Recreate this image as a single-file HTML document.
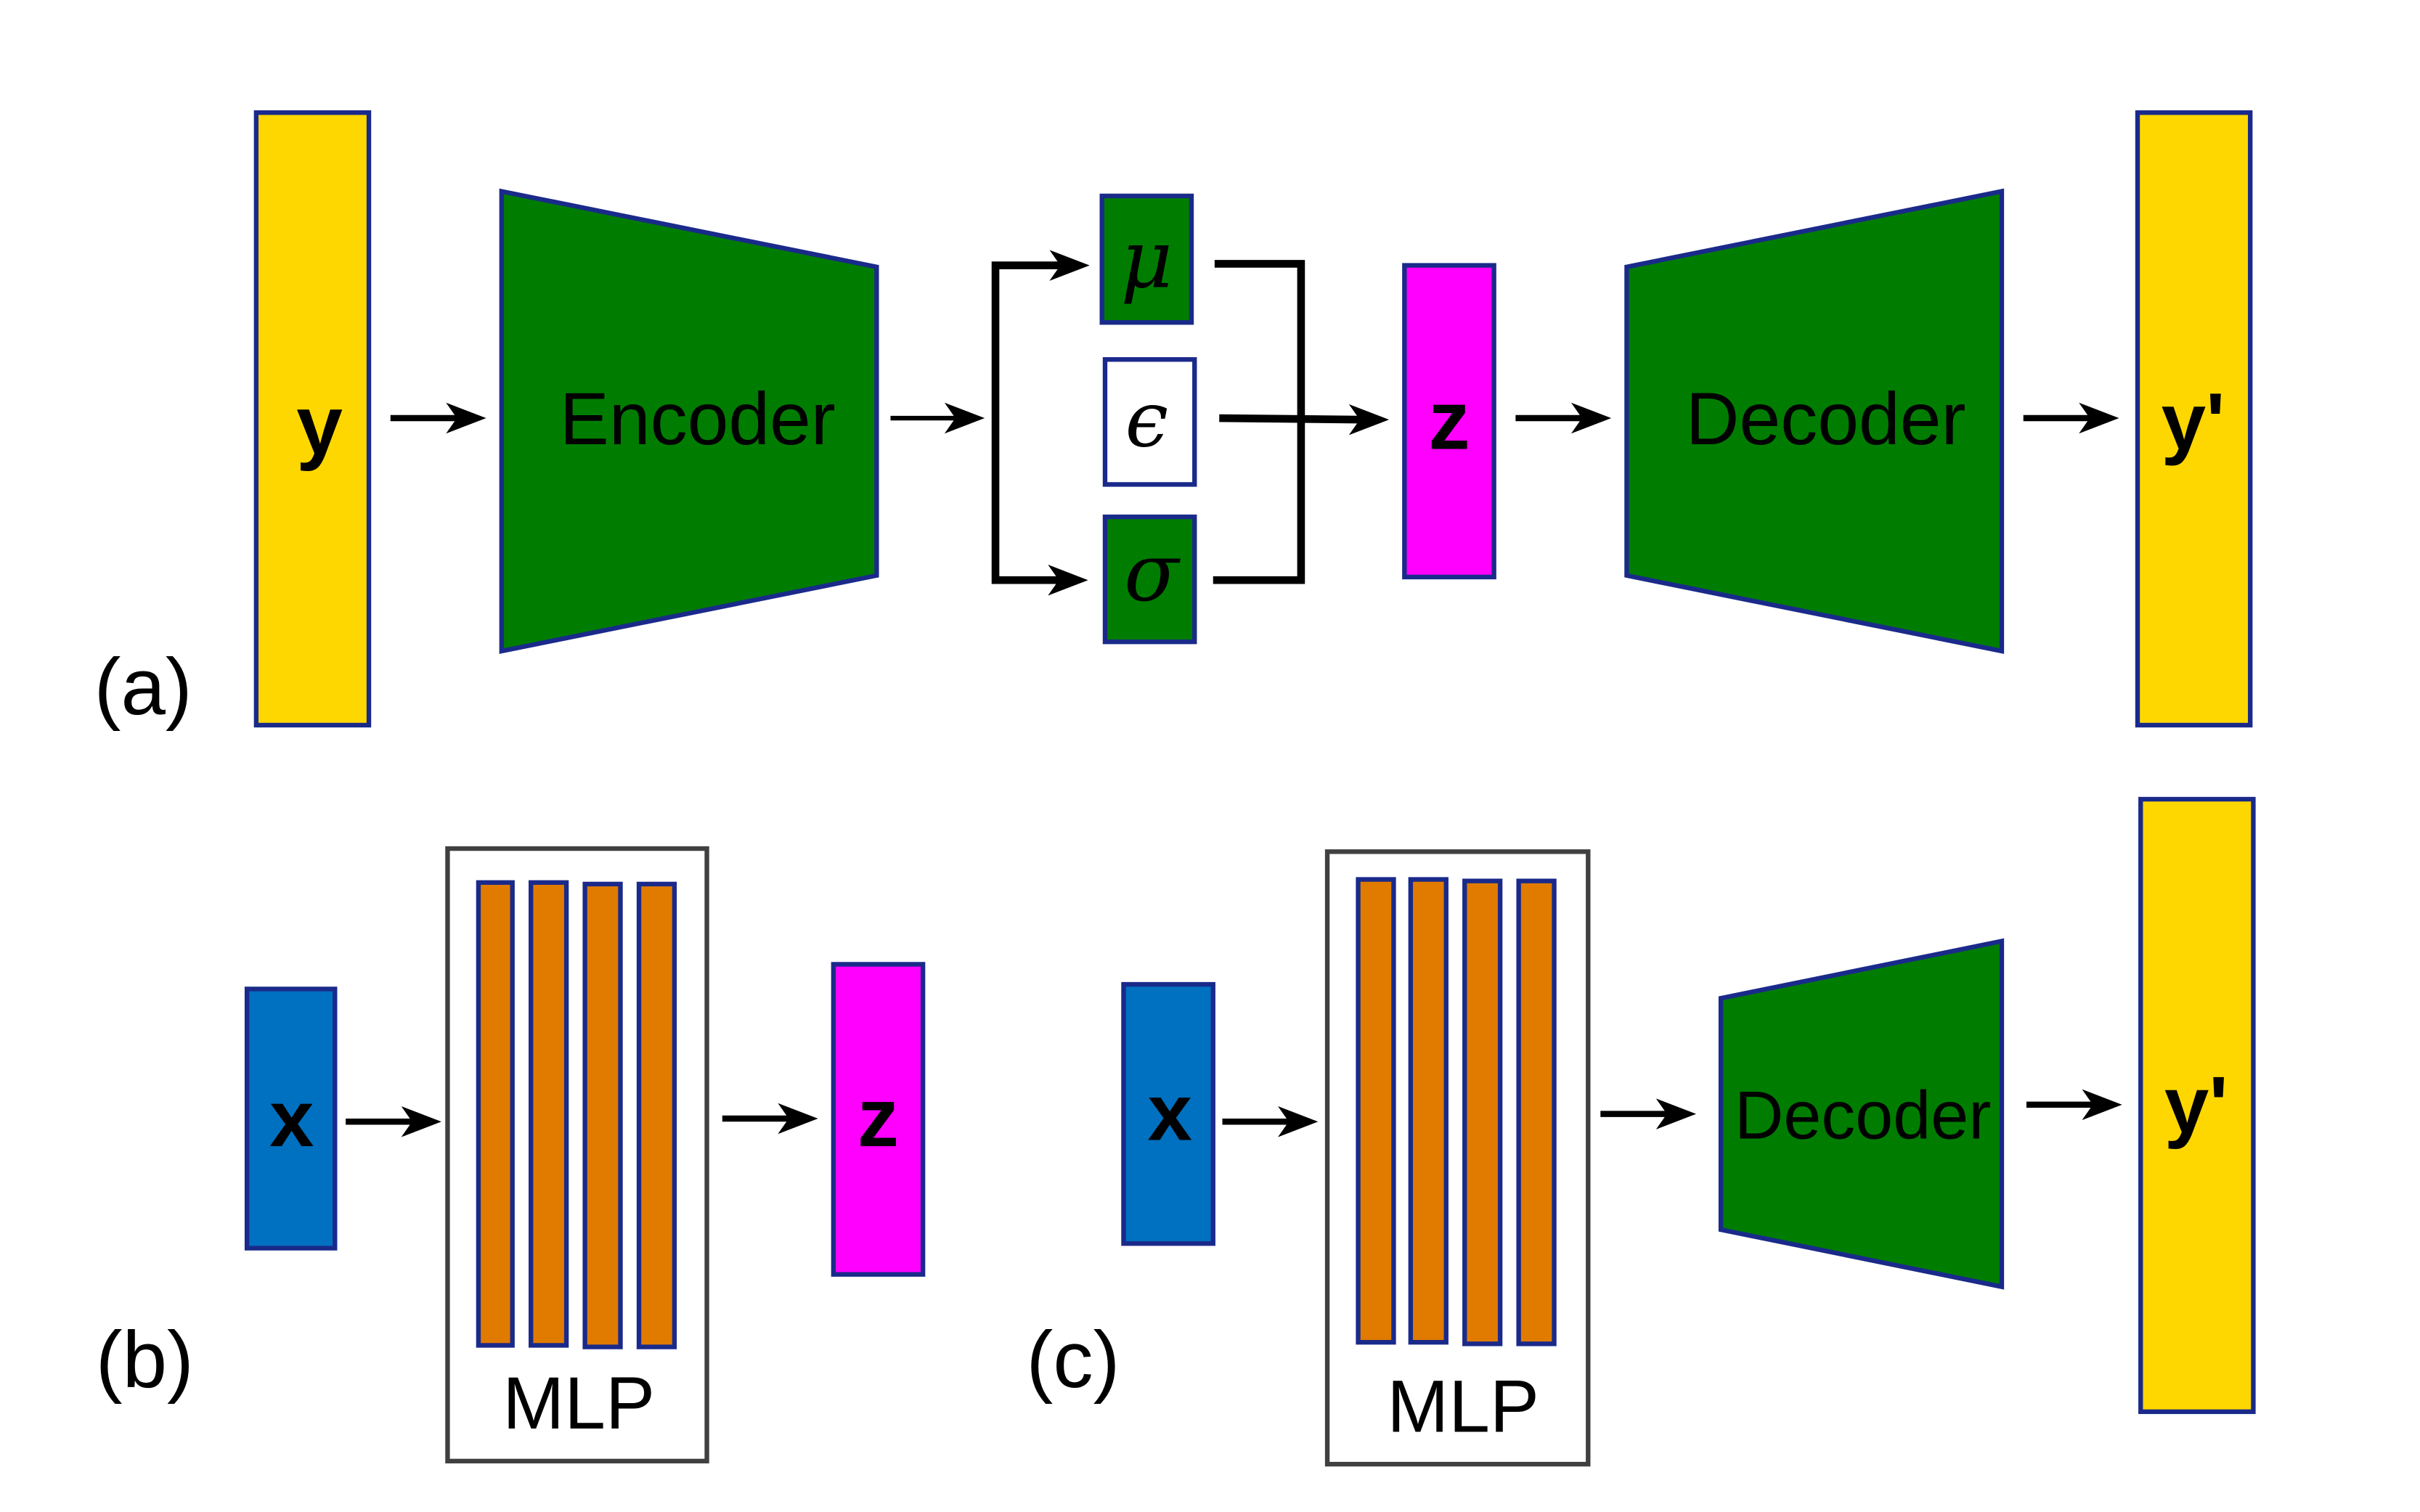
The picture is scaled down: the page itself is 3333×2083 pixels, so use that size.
<!DOCTYPE html>
<html><head><meta charset="utf-8"><style>
html,body{margin:0;padding:0;background:#fff;}
svg{display:block;}
</style></head><body>
<svg width="3333" height="2083" viewBox="0 0 1568 980" xmlns="http://www.w3.org/2000/svg" preserveAspectRatio="none">
<g font-family="Liberation Sans, sans-serif">
<!-- (a) -->
<rect x="166" y="73" width="73" height="397" fill="#FFD700" stroke="#1a2a8a" stroke-width="3"/>
<text x="207" y="294" font-size="54" font-weight="bold" text-anchor="middle">y</text>
<polygon points="325,124 568,173 568,373 325,422" fill="#007D00" stroke="#1a2a8a" stroke-width="3"/>
<text x="452" y="288" font-size="48" text-anchor="middle">Encoder</text>
<rect x="714" y="127" width="58" height="82" fill="#007D00" stroke="#1a2a8a" stroke-width="3"/>
<text x="743" y="186" font-size="52" font-style="italic" font-family="DejaVu Serif, serif" text-anchor="middle">μ</text>
<rect x="716" y="233" width="58" height="81" fill="#fff" stroke="#1a2a8a" stroke-width="3"/>
<text x="743" y="289" font-size="50" font-style="italic" font-family="DejaVu Serif, serif" text-anchor="middle">ϵ</text>
<rect x="716" y="335" width="58" height="81" fill="#007D00" stroke="#1a2a8a" stroke-width="3"/>
<text x="746" y="389" font-size="52" font-style="italic" font-family="DejaVu Serif, serif" text-anchor="middle">σ</text>
<rect x="910" y="172" width="58" height="202" fill="#FF00FF" stroke="#1a2a8a" stroke-width="3"/>
<text x="939" y="291" font-size="54" font-weight="bold" text-anchor="middle">z</text>
<polygon points="1054,173 1297,124 1297,422 1054,373" fill="#007D00" stroke="#1a2a8a" stroke-width="3"/>
<text x="1183" y="288" font-size="48" text-anchor="middle">Decoder</text>
<rect x="1385" y="73" width="73" height="397" fill="#FFD700" stroke="#1a2a8a" stroke-width="3"/>
<text x="1421" y="291" font-size="52" font-weight="bold" text-anchor="middle">y'</text>
<text x="61" y="463" font-size="52">(a)</text>
<g stroke="#000" stroke-width="5" fill="none">
<polyline points="690,172 645,172 645,376 688,376"/>
<polyline points="787,171 843,171 843,376 786,376"/>
<line x1="790" y1="271" x2="885" y2="272"/>
<line x1="253" y1="271" x2="300" y2="271" stroke-width="4"/>
<line x1="577" y1="271" x2="624" y2="271" stroke-width="3"/>
<line x1="982" y1="271" x2="1030" y2="271" stroke-width="4"/>
<line x1="1311" y1="271" x2="1359" y2="271" stroke-width="4"/>
</g>
<g fill="#000">
<polygon points="706,172 680,162 687,172 680,182"/>
<polygon points="705,376 679,366 686,376 679,386"/>
<polygon points="900,272 874,262 881,272 874,282"/>
<polygon points="315,271 289,261 296,271 289,281"/>
<polygon points="638,271 612,261 619,271 612,281"/>
<polygon points="1044,271 1018,261 1025,271 1018,281"/>
<polygon points="1373,271 1347,261 1354,271 1347,281"/>
</g>
<!-- (b) -->
<rect x="160" y="641" width="57" height="168" fill="#0070C0" stroke="#1a2a8a" stroke-width="3"/>
<text x="189" y="743" font-size="52" font-weight="bold" text-anchor="middle">x</text>
<rect x="290" y="550" width="168" height="397" fill="#fff" stroke="#404040" stroke-width="3"/>
<g fill="#E07B00" stroke="#1a2a8a" stroke-width="3">
<rect x="310" y="572" width="22" height="300"/>
<rect x="344" y="572" width="23" height="300"/>
<rect x="379" y="573" width="23" height="300"/>
<rect x="414" y="573" width="23" height="300"/>
</g>
<text x="375" y="926" font-size="48" text-anchor="middle">MLP</text>
<rect x="540" y="625" width="58" height="201" fill="#FF00FF" stroke="#1a2a8a" stroke-width="3"/>
<text x="569" y="743" font-size="54" font-weight="bold" text-anchor="middle">z</text>
<text x="62" y="899" font-size="52">(b)</text>
<!-- (c) -->
<text x="665" y="899" font-size="52">(c)</text>
<rect x="728" y="638" width="58" height="168" fill="#0070C0" stroke="#1a2a8a" stroke-width="3"/>
<text x="758" y="739" font-size="52" font-weight="bold" text-anchor="middle">x</text>
<rect x="860" y="552" width="169" height="397" fill="#fff" stroke="#404040" stroke-width="3"/>
<g fill="#E07B00" stroke="#1a2a8a" stroke-width="3">
<rect x="880" y="570" width="23" height="300"/>
<rect x="914" y="570" width="23" height="300"/>
<rect x="949" y="571" width="23" height="300"/>
<rect x="984" y="571" width="23" height="300"/>
</g>
<text x="948" y="928" font-size="48" text-anchor="middle">MLP</text>
<polygon points="1115,647 1297,610 1297,834 1115,797" fill="#007D00" stroke="#1a2a8a" stroke-width="3"/>
<text x="1207" y="738" font-size="44" text-anchor="middle">Decoder</text>
<rect x="1387" y="518" width="73" height="397" fill="#FFD700" stroke="#1a2a8a" stroke-width="3"/>
<text x="1423" y="734" font-size="52" font-weight="bold" text-anchor="middle">y'</text>
<g stroke="#000" stroke-width="4">
<line x1="224" y1="727" x2="272" y2="727"/>
<line x1="468" y1="725" x2="516" y2="725"/>
<line x1="792" y1="727" x2="840" y2="727"/>
<line x1="1037" y1="722" x2="1085" y2="722"/>
<line x1="1313" y1="716" x2="1361" y2="716"/>
</g>
<g fill="#000">
<polygon points="286,727 260,717 267,727 260,737"/>
<polygon points="530,725 504,715 511,725 504,735"/>
<polygon points="854,727 828,717 835,727 828,737"/>
<polygon points="1099,722 1073,712 1080,722 1073,732"/>
<polygon points="1375,716 1349,706 1356,716 1349,726"/>
</g>
</g>
</svg>
</body></html>
